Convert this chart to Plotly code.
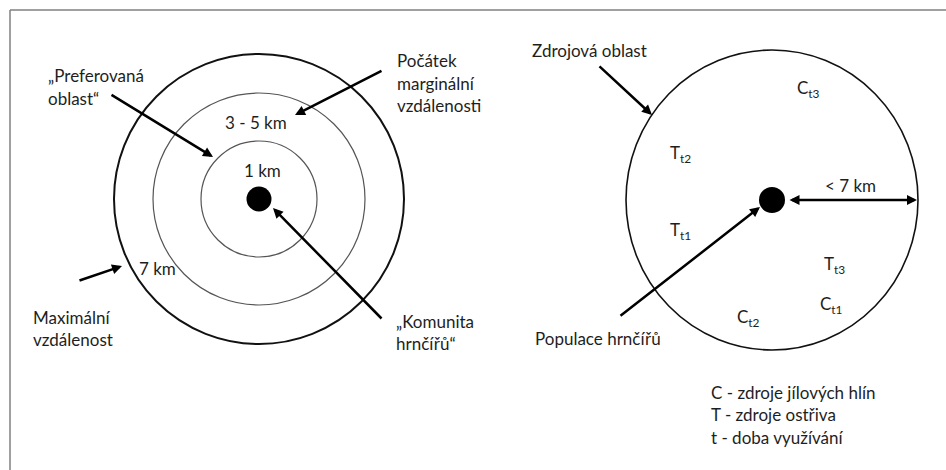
import plotly.graph_objects as go

# ---- data ----
zone_labels = ["1 km", "3 - 5 km", "7 km"]
zone_radii = [58, 106, 145]            # px radii of the three concentric zones
source_radius = 148                     # source area circle radius
source_label = "< 7 km"
resource_names = ["C<sub>t3</sub>", "T<sub>t2</sub>", "T<sub>t1</sub>", "T<sub>t3</sub>", "C<sub>t1</sub>", "C<sub>t2</sub>"]
legend_lines = ["C - zdroje jílových hlín", "T - zdroje ostřiva", "t - doba využívání"]

# ---- layout positions ----
left_c = (259, 199)
right_c = (772, 200)
resource_pos = [(795, 89), (668, 154), (668, 231), (822, 265), (818, 305), (735, 318)]

FONT = "Lato, 'Open Sans', sans-serif"
TXT = "#1e1e1e"
FS = 17

fig = go.Figure()
fig.add_trace(go.Scatter(x=[0, 946], y=[0, 470], mode="markers",
                         marker=dict(opacity=0), hoverinfo="skip", showlegend=False))

shapes = []
# frame
shapes.append(dict(type="line", x0=10, y0=10, x1=946, y1=10, line=dict(color="#808080", width=1.5)))
shapes.append(dict(type="line", x0=10, y0=10, x1=10, y1=470, line=dict(color="#808080", width=1.5)))

# concentric zones
widths = [1.2, 1.2, 2]
colors = ["#555555", "#555555", "#111111"]
for r, w, c in zip(zone_radii, widths, colors):
    shapes.append(dict(type="circle", x0=left_c[0] - r, x1=left_c[0] + r,
                       y0=left_c[1] - r, y1=left_c[1] + r, line=dict(color=c, width=w)))
# centre dots
for (cx, cy), rd in [(left_c, 12.5), (right_c, 13)]:
    shapes.append(dict(type="circle", x0=cx - rd, x1=cx + rd, y0=cy - rd, y1=cy + rd,
                       fillcolor="black", line=dict(color="black", width=0)))
# source area
shapes.append(dict(type="circle", x0=right_c[0] - 146, x1=right_c[0] + 146,
                   y0=right_c[1] - 150, y1=right_c[1] + 150,
                   line=dict(color="#111111", width=1.6)))

annotations = []

def txt(x, y, s, anchor="left", size=FS):
    annotations.append(dict(x=x, y=y, text=s, showarrow=False, xanchor=anchor, yanchor="middle",
                            font=dict(family=FONT, size=size, color=TXT)))

def arrow(x0, y0, x1, y1, both=False):
    annotations.append(dict(x=x1, y=y1, ax=x0, ay=y0, axref="x", ayref="y", text="",
                            showarrow=True, arrowhead=2, arrowsize=0.8, arrowwidth=2.5,
                            arrowcolor="black", startarrowhead=2, startarrowsize=0.8,
                            arrowside="end+start" if both else "end"))

# left diagram labels
txt(46, 75, "„Preferovaná")
txt(46, 98, "oblast“")
txt(395, 60, "Počátek")
txt(395, 83, "marginální")
txt(395, 105, "vzdálenosti")
txt(256, 122, zone_labels[1], "center")
txt(262, 170, zone_labels[0], "center")
txt(137, 268, zone_labels[2])
txt(31, 317, "Maximální")
txt(31, 339, "vzdálenost")
txt(394, 321, "„Komunita")
txt(394, 343, "hrnčířů“")

arrow(110, 94, 213, 157)
arrow(383, 70, 295, 115)
arrow(383, 320, 273, 208)
arrow(78, 281, 122, 266)

# right diagram labels
txt(530, 50, "Zdrojová oblast")
for (x, y), s in zip(resource_pos, resource_names):
    txt(x, y, s)
txt(850, 185, source_label, "center")
txt(533, 338, "Populace hrnčířů")
for i, s in enumerate(legend_lines):
    txt(709, 392 + 22.5 * i, s)

arrow(598, 65, 652, 115)
arrow(619, 317, 760, 207)
arrow(788, 200, 917, 200, both=True)

fig.update_layout(
    width=946, height=470, margin=dict(l=0, r=0, t=0, b=0),
    paper_bgcolor="white", plot_bgcolor="white",
    xaxis=dict(range=[0, 946], visible=False, fixedrange=True),
    yaxis=dict(range=[470, 0], visible=False, fixedrange=True),
    shapes=shapes, annotations=annotations, showlegend=False,
)
fig.write_html("out.html", config={"displayModeBar": False},
               post_script="document.body.style.margin='0';document.body.style.overflow='hidden';")
